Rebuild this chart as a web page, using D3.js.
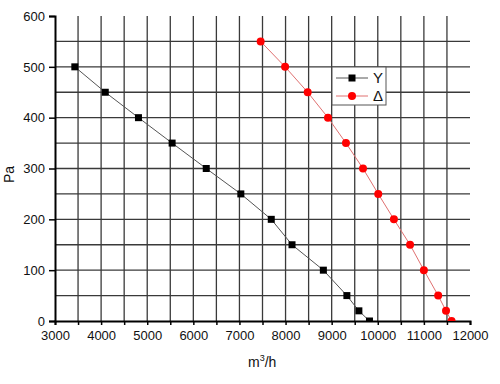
<!DOCTYPE html>
<html>
<head>
<meta charset="utf-8">
<script src="https://cdn.jsdelivr.net/npm/d3@7"></script>
<style>
  body { margin: 0; background: #fff; }
  svg { display: block; font-family: "Liberation Sans", Arial, sans-serif; }
</style>
</head>
<body>
<div id="chart"></div>
<script>
// Star (Y) connection curve
const starFlow = [3430, 4090, 4810, 5540, 6280, 7030, 7690, 8140, 8820, 9330, 9590, 9820];
const starPressure = [500, 450, 400, 350, 300, 250, 200, 150, 100, 50, 20, 0];

// Delta connection curve
const deltaFlow = [7460, 7990, 8480, 8920, 9310, 9680, 10010, 10350, 10700, 11000, 11310, 11480, 11600];
const deltaPressure = [550, 500, 450, 400, 350, 300, 250, 200, 150, 100, 50, 20, 0];

const xTicks = [3000, 4000, 5000, 6000, 7000, 8000, 9000, 10000, 11000, 12000];
const yTicks = [0, 100, 200, 300, 400, 500, 600];
const xGrid = [3500, 4000, 4500, 5000, 5500, 6000, 6500, 7000, 7500, 8000, 8500, 9000, 9500, 10000, 10500, 11000, 11500];
const yGrid = [50, 100, 150, 200, 250, 300, 350, 400, 450, 500, 550];

const width = 500;
const height = 384;
const margin = { top: 16, right: 30, bottom: 63, left: 55 };

const svg = d3.select('#chart').append('svg')
  .attr('width', width)
  .attr('height', height);

const x = d3.scaleLinear()
  .domain([3000, 12000])
  .range([margin.left, width - margin.right]);

const y = d3.scaleLinear()
  .domain([0, 600])
  .range([height - margin.bottom, margin.top]);

// Grid
svg.append('g')
  .selectAll('line')
  .data(xGrid)
  .join('line')
  .attr('x1', d => x(d)).attr('x2', d => x(d))
  .attr('y1', y(600)).attr('y2', y(0))
  .attr('stroke', '#3a3a3a')
  .attr('stroke-width', 1.3);

svg.append('g')
  .selectAll('line')
  .data(yGrid)
  .join('line')
  .attr('x1', x(3000)).attr('x2', x(12000))
  .attr('y1', d => y(d)).attr('y2', d => y(d))
  .attr('stroke', '#3a3a3a')
  .attr('stroke-width', 1.3);

// Axes
const xAxis = svg.append('g')
  .attr('transform', `translate(0, ${y(0)})`)
  .call(d3.axisBottom(x).tickValues(xTicks).tickSize(4).tickPadding(6).tickFormat(d3.format('d')));

svg.append('g')
  .attr('transform', `translate(0, ${y(0)})`)
  .call(d3.axisBottom(x).tickValues(xGrid.filter(d => d % 1000 !== 0)).tickSize(4).tickFormat(''))
  .call(g => g.select('.domain').remove());

const yAxis = svg.append('g')
  .attr('transform', `translate(${x(3000)}, 0)`)
  .call(d3.axisLeft(y).tickValues(yTicks).tickSize(6).tickPadding(4));

svg.selectAll('.domain').attr('stroke', '#000').attr('stroke-width', 2);
svg.selectAll('.tick line').attr('stroke', '#000').attr('stroke-width', 1.5);
svg.selectAll('.tick text').attr('font-size', 13).attr('fill', '#111')
  .attr('font-family', '"Liberation Sans", Arial, sans-serif');

// Clip markers to plot area
svg.append('clipPath').attr('id', 'plot-clip')
  .append('rect')
  .attr('x', x(3000)).attr('y', y(600) - 10)
  .attr('width', x(12000) - x(3000)).attr('height', y(0) - y(600) + 10);

const plot = svg.append('g').attr('clip-path', 'url(#plot-clip)');

const starData = starFlow.map((f, i) => ({ x: f, y: starPressure[i] }));
const deltaData = deltaFlow.map((f, i) => ({ x: f, y: deltaPressure[i] }));

const line = d3.line().x(d => x(d.x)).y(d => y(d.y));

plot.append('path')
  .datum(starData)
  .attr('fill', 'none')
  .attr('stroke', '#555')
  .attr('stroke-width', 1)
  .attr('d', line);

plot.append('path')
  .datum(deltaData)
  .attr('fill', 'none')
  .attr('stroke', '#e07070')
  .attr('stroke-width', 1)
  .attr('d', line);

plot.append('g')
  .selectAll('rect')
  .data(starData)
  .join('rect')
  .attr('x', d => x(d.x) - 3.5)
  .attr('y', d => y(d.y) - 3.5)
  .attr('width', 7)
  .attr('height', 7)
  .attr('fill', '#000');

plot.append('g')
  .selectAll('circle')
  .data(deltaData)
  .join('circle')
  .attr('cx', d => x(d.x))
  .attr('cy', d => y(d.y))
  .attr('r', 4)
  .attr('fill', '#ff0000');

// Legend
const legend = svg.append('g').attr('transform', 'translate(332, 67)');
legend.append('rect')
  .attr('width', 54).attr('height', 38)
  .attr('fill', '#fff')
  .attr('stroke', '#555')
  .attr('stroke-width', 1);

const legendItems = [
  { label: 'Y', color: '#555', mark: '#000', shape: 'square' },
  { label: '\u0394', color: '#e07070', mark: '#ff0000', shape: 'circle' },
];

legendItems.forEach((item, i) => {
  const cy = 11 + i * 18;
  legend.append('line')
    .attr('x1', 4).attr('x2', 36)
    .attr('y1', cy).attr('y2', cy)
    .attr('stroke', item.color)
    .attr('stroke-width', 1);
  if (item.shape === 'square') {
    legend.append('rect')
      .attr('x', 20 - 3.5).attr('y', cy - 3.5)
      .attr('width', 7).attr('height', 7)
      .attr('fill', item.mark);
  } else {
    legend.append('circle')
      .attr('cx', 20).attr('cy', cy).attr('r', 4)
      .attr('fill', item.mark);
  }
  legend.append('text')
    .attr('x', 41).attr('y', cy + 5)
    .attr('font-size', 15)
    .attr('fill', '#111')
    .text(item.label);
});

// Axis titles
svg.append('text')
  .attr('transform', `translate(14, ${(y(0) + y(600)) / 2 + 6}) rotate(-90)`)
  .attr('text-anchor', 'middle')
  .attr('font-size', 14)
  .attr('fill', '#111')
  .text('Pa');

const xTitle = svg.append('text')
  .attr('x', 248)
  .attr('y', 367)
  .attr('font-size', 14)
  .attr('fill', '#111');
xTitle.append('tspan').text('m');
xTitle.append('tspan').attr('dy', -6).attr('font-size', 9).text('3');
xTitle.append('tspan').attr('dy', 6).text('/h');
</script>
</body>
</html>
